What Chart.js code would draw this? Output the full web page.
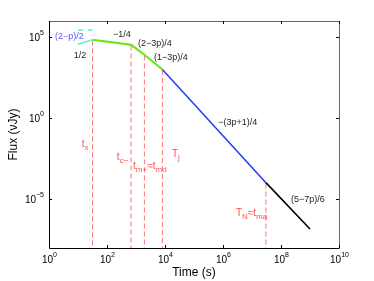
<!DOCTYPE html>
<html>
<head>
<meta charset="utf-8">
<script src="https://cdn.jsdelivr.net/npm/chart.js@4/dist/chart.umd.min.js"></script>
<style>
body { margin: 0; background: #fff; }
</style>
</head>
<body>
<canvas id="myChart" width="374" height="281"></canvas>
<script>
// light curve pieces, time in s, flux in uJy
var cyanT = [10, 31.6];
var cyanF = [3.7e4, 6.9e4];
var cyanDashT = [10, 31.6];
var cyanDashF = [2.75e5, 2.75e5];
var greenT = [31.6, 676, 1950, 8128];
var greenF = [6.9e4, 3.39e4, 8.3e3, 1.02e3];
var blueT = [8128, 3.02e7];
var blueF = [1.02e3, 1.07e-4];
var blackT = [3.02e7, 1e9];
var blackF = [1.07e-4, 1.5e-7];

// break times (red dashed lines)
var breakT = [31.6, 676, 1950, 8128, 3.02e7];
var breakF = [6.3e4, 3.1e4, 7.6e3, 9.4e2, 9.5e-5];
var floorF = 1e-8;

var xTicks = [1, 1e2, 1e4, 1e6, 1e8, 1e10];
var xExp = ["0", "2", "4", "6", "8", "10"];
var yTicks = [1e-5, 1, 1e5];
var yExp = ["\u22125", "0", "5"];

// slope labels: text, time, flux
var slopeText = ["(2\u2212p)/2", "1/2", "\u22121/4", "(2\u22123p)/4", "(1\u22123p)/4", "\u2212(3p+1)/4", "(5\u22127p)/6"];
var slopeT = [1.62, 7.2, 162, 1175, 4170, 6.8e5, 2.2e8];
var slopeF = [1.1e5, 7.6e3, 1.48e5, 4.1e4, 5.6e3, 0.57, 1e-5];
var slopeColor = ["#5a5aff", "#222", "#222", "#222", "#222", "#222", "#222"];

// break labels: main letter, subscript, optional second part
var breakLab = [["t", "x"], ["t", "c\u2212"], ["t", "m+", "\u2248t", "md"], ["T", "j"], ["T", "N", "\u2248t", "ma"]];
var breakLabT = [13.5, 219, 794, 17400, 2.8e6];
var breakLabF = [0.025, 4.1e-3, 1.12e-3, 6.2e-3, 1.4e-6];

function pts(xs, ys)
{
    var out = [];
    for (var i = 0; i < xs.length; i++) {
        out.push({x: xs[i], y: ys[i]});
    }
    return out;
}

var datasets = [
    {data: pts(cyanT, cyanF), borderColor: '#5cf0d2', borderWidth: 1.5},
    {data: pts(cyanDashT, cyanDashF), borderColor: '#5cf0d2', borderWidth: 1.5, borderDash: [5, 5]},
    {data: pts(greenT, greenF), borderColor: '#66e610', borderWidth: 2},
    {data: pts(blueT, blueF), borderColor: '#2a3cff', borderWidth: 1.6},
    {data: pts(blackT, blackF), borderColor: '#000', borderWidth: 1.6}
];
for (var k = 0; k < breakT.length; k++) {
    datasets.push({
        data: pts([breakT[k], breakT[k]], [breakF[k], floorF]),
        borderColor: 'rgba(255,80,80,0.8)', borderWidth: 1, borderDash: [5, 3]
    });
}
datasets.forEach(function(d) {
    d.showLine = true;
    d.pointRadius = 0;
    d.fill = false;
});

var decor = {
    id: 'decor',
    afterDraw: function(chart) {
        var ctx = chart.ctx;
        var xs = chart.scales.x, ys = chart.scales.y;
        var a = chart.chartArea;
        var i, px, py;
        ctx.save();
        // box
        ctx.strokeStyle = '#000';
        ctx.lineWidth = 1;
        ctx.beginPath();
        ctx.moveTo(Math.round(a.left) + 0.5, Math.round(a.top) + 0.5);
        ctx.lineTo(Math.round(a.left) + 0.5, Math.round(a.bottom) + 0.5);
        ctx.lineTo(Math.round(a.right) + 0.5, Math.round(a.bottom) + 0.5);
        ctx.stroke();
        ctx.strokeStyle = '#666';
        ctx.beginPath();
        ctx.moveTo(Math.round(a.left) + 0.5, Math.round(a.top) + 0.5);
        ctx.lineTo(Math.round(a.right) + 0.5, Math.round(a.top) + 0.5);
        ctx.lineTo(Math.round(a.right) + 0.5, Math.round(a.bottom) + 0.5);
        ctx.stroke();

        // inward ticks + labels
        ctx.fillStyle = '#000';
        ctx.strokeStyle = '#000';
        for (i = 0; i < xTicks.length; i++) {
            px = Math.round(xs.getPixelForValue(xTicks[i])) + 0.5;
            ctx.beginPath();
            ctx.moveTo(px, a.bottom); ctx.lineTo(px, a.bottom - 3);
            ctx.moveTo(px, a.top); ctx.lineTo(px, a.top + 3);
            ctx.stroke();
            ctx.font = '10px "Liberation Sans", Arial, sans-serif';
            var w1 = ctx.measureText("10").width;
            ctx.font = '7px "Liberation Sans", Arial, sans-serif';
            var w2 = ctx.measureText(xExp[i]).width;
            var x0 = px - (w1 + w2) / 2;
            ctx.textAlign = 'left';
            ctx.textBaseline = 'middle';
            ctx.font = '10px "Liberation Sans", Arial, sans-serif';
            ctx.fillText("10", x0, a.bottom + 12);
            ctx.font = '7px "Liberation Sans", Arial, sans-serif';
            ctx.fillText(xExp[i], x0 + w1, a.bottom + 7);
        }
        for (i = 0; i < yTicks.length; i++) {
            py = Math.round(ys.getPixelForValue(yTicks[i])) + 0.5;
            ctx.beginPath();
            ctx.moveTo(a.left, py); ctx.lineTo(a.left + 3, py);
            ctx.moveTo(a.right, py); ctx.lineTo(a.right - 3, py);
            ctx.stroke();
            ctx.font = '7px "Liberation Sans", Arial, sans-serif';
            var we = ctx.measureText(yExp[i]).width;
            ctx.textAlign = 'right';
            ctx.textBaseline = 'middle';
            ctx.fillText(yExp[i], a.left - 5, py - 4);
            ctx.font = '10px "Liberation Sans", Arial, sans-serif';
            ctx.fillText("10", a.left - 5 - we, py + 1);
        }

        // axis titles
        ctx.font = '12px "Liberation Sans", Arial, sans-serif';
        ctx.textAlign = 'center';
        ctx.textBaseline = 'middle';
        ctx.fillText("Time (s)", (a.left + a.right) / 2, a.bottom + 25);
        ctx.save();
        ctx.translate(14, (a.top + a.bottom) / 2);
        ctx.rotate(-Math.PI / 2);
        ctx.fillText("Flux (\u03bdJy)", 0, 0);
        ctx.restore();

        // slope labels
        ctx.textAlign = 'left';
        ctx.font = '9px "Liberation Sans", Arial, sans-serif';
        for (i = 0; i < slopeText.length; i++) {
            ctx.fillStyle = slopeColor[i];
            ctx.fillText(slopeText[i], xs.getPixelForValue(slopeT[i]), ys.getPixelForValue(slopeF[i]));
        }

        // break labels
        ctx.fillStyle = '#ff5252';
        for (i = 0; i < breakLab.length; i++) {
            var lab = breakLab[i];
            var bx = xs.getPixelForValue(breakLabT[i]);
            var by = ys.getPixelForValue(breakLabF[i]);
            for (var j = 0; j < lab.length; j++) {
                var sub = (j % 2 == 1);
                ctx.font = (sub ? '8px' : '10px') + ' "Liberation Sans", Arial, sans-serif';
                ctx.fillText(lab[j], bx, sub ? by + 4 : by);
                bx += ctx.measureText(lab[j]).width;
            }
        }
        ctx.restore();
    }
};

var config = {
    type: 'scatter',
    data: {datasets: datasets},
    options: {
        responsive: false,
        animation: false,
        events: [],
        layout: {padding: {left: 49, right: 35, top: 21, bottom: 33}},
        plugins: {legend: {display: false}, tooltip: {enabled: false}},
        scales: {
            x: {type: 'logarithmic', min: 1, max: 1e10, display: false},
            y: {type: 'logarithmic', min: 1e-8, max: 1e6, display: false}
        }
    },
    plugins: [decor]
};

var myChart = new Chart(document.getElementById('myChart').getContext('2d'), config);
</script>
</body>
</html>
